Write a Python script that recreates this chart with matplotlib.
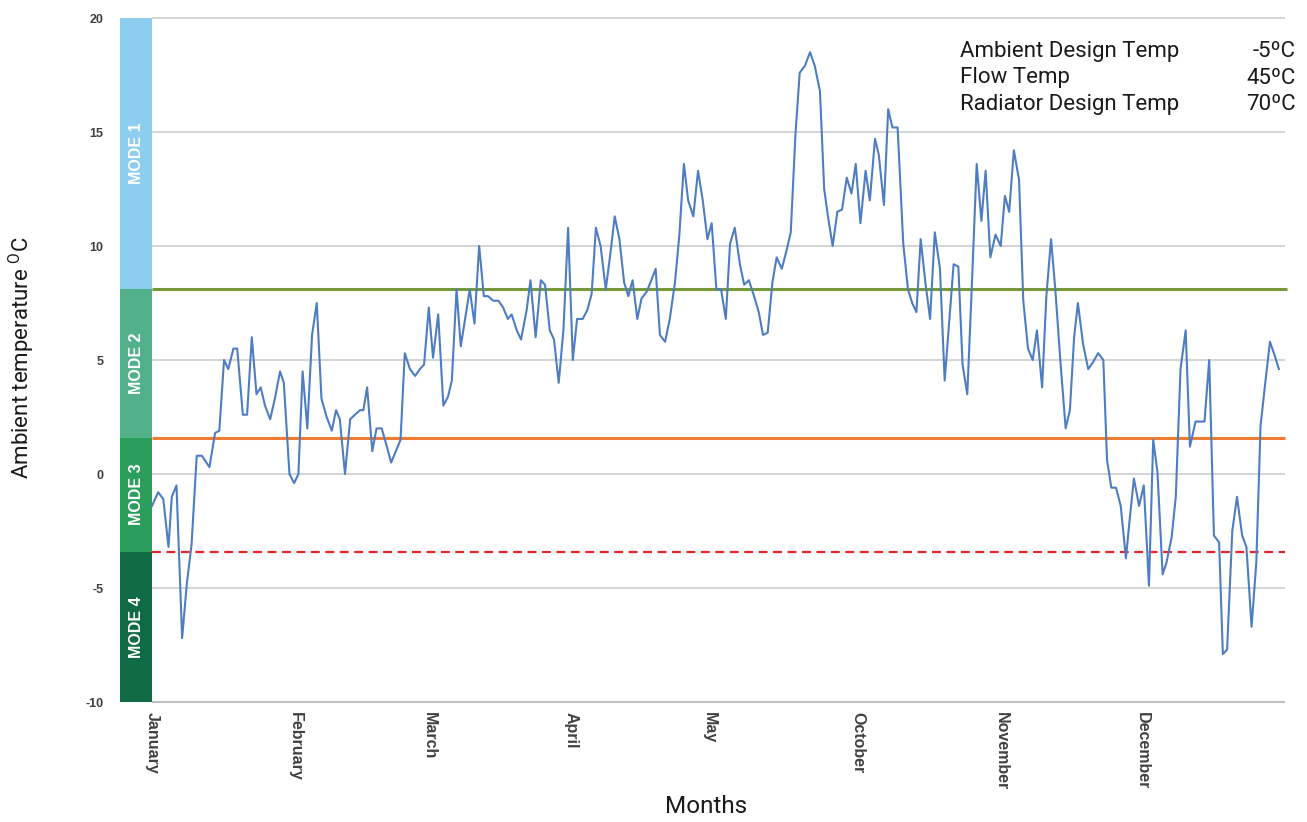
import matplotlib
matplotlib.use("Agg")
import matplotlib.pyplot as plt

plt.rcParams['font.family'] = ['Liberation Sans', 'DejaVu Sans']
plt.rcParams['mathtext.fontset'] = 'custom'
plt.rcParams['mathtext.rm'] = 'Roboto'
plt.rcParams['mathtext.it'] = 'Roboto'

# ---- data ----
days = [0, 1.3, 2.4, 3.5, 4.2, 5.2, 6.4, 7.4, 8.4, 9.5, 10.6, 12.2, 13.4, 14.3, 15.3, 16.2,
        17.3, 18.1, 19.3, 20.2, 21.2, 22.2, 23.1, 24.0, 25.1, 26.1, 27.2, 28.0, 29.2, 30.2,
        31.1, 32.0, 33.0, 34.0, 35.0, 36.0, 37.1, 38.2, 39.1, 39.9, 41.0, 42.1, 43.1, 44.2,
        44.9, 45.7, 46.8, 47.7, 48.8, 49.9, 50.8, 51.8, 52.8, 53.7, 54.8, 55.9, 56.9, 57.8,
        58.8, 59.7, 60.8, 61.9, 62.9, 63.7, 64.7, 65.6, 66.6, 67.5, 68.5, 69.5, 70.5, 71.4,
        72.5, 73.6, 74.6, 75.6, 76.4, 77.5, 78.4, 79.6, 80.4, 81.5, 82.6, 83.5, 84.5, 85.4,
        86.4, 87.4, 88.4, 89.4, 90.3, 91.5, 92.5, 93.4, 94.3, 95.3, 96.4, 97.4, 98.3, 99.3,
        100.3, 101.2, 102.1, 103.1, 104.0, 105.1, 105.9, 107.0, 107.9, 109.0, 110.0, 111.1,
        112.0, 113.0, 113.9, 115.0, 116.0, 117.0, 118.0, 118.9, 119.9, 120.9, 121.9, 122.8,
        123.8, 124.9, 125.8, 126.8, 127.9, 128.9, 129.8, 130.8, 131.8, 132.7, 133.8, 134.8,
        135.7, 136.7, 137.6, 138.7, 139.8, 140.8, 141.9, 142.8, 143.6, 144.6, 145.6, 146.6,
        147.6, 148.6, 149.5, 150.5, 151.6, 152.5, 153.6, 154.4, 155.5, 156.4, 157.3, 158.4,
        159.6, 160.6, 161.5, 162.4, 163.3, 164.3, 165.3, 166.3, 167.4, 168.4, 169.3, 170.3,
        171.3, 172.2, 173.2, 174.1, 175.2, 176.2, 177.1, 178.1, 179.2, 180.3, 181.2, 182.1,
        183.1, 184.2, 185.1, 186.1, 187.1, 188.0, 189.1, 190.0, 191.0, 191.9, 193.0, 194.1,
        195.0, 195.9, 196.7, 197.8, 198.9, 199.9, 201.0, 202.1, 202.9, 203.8, 204.8, 205.8,
        206.9, 207.7, 208.6, 209.7, 210.7, 211.8, 212.7, 213.6, 214.7, 215.5, 216.6, 217.5,
        218.5, 219.6, 220.5, 221.7, 222.7, 223.6, 224.6, 225.6, 226.7, 227.5, 228.4, 229.5,
        230.5, 231.6, 232.5, 233.6, 234.6, 235.5, 236.4, 237.5, 238.5, 239.4]
temps = [-1.4, -0.8, -1.1, -3.2, -1.0, -0.5, -7.2, -4.8, -3.1, 0.8, 0.8, 0.3, 1.8, 1.9, 5.0, 4.6,
         5.5, 5.5, 2.6, 2.6, 6.0, 3.5, 3.8, 3.0, 2.4, 3.3, 4.5, 4.0, 0.0, -0.4,
         0.0, 4.5, 2.0, 6.1, 7.5, 3.3, 2.5, 1.9, 2.8, 2.4, 0.0, 2.4, 2.6, 2.8,
         2.8, 3.8, 1.0, 2.0, 2.0, 1.2, 0.5, 1.0, 1.5, 5.3, 4.6, 4.3, 4.6, 4.8,
         7.3, 5.1, 7.0, 3.0, 3.4, 4.1, 8.1, 5.6, 6.9, 8.1, 6.6, 10.0, 7.8, 7.8,
         7.6, 7.6, 7.3, 6.8, 7.0, 6.3, 5.9, 7.2, 8.5, 6.0, 8.5, 8.3, 6.3, 5.9,
         4.0, 6.3, 10.8, 5.0, 6.8, 6.8, 7.2, 7.9, 10.8, 10.0, 8.1, 9.7, 11.3, 10.3,
         8.4, 7.8, 8.5, 6.8, 7.7, 8.0, 8.4, 9.0, 6.1, 5.8, 6.8, 8.4,
         10.4, 13.6, 12.0, 11.3, 13.3, 12.0, 10.3, 11.0, 8.1, 8.1, 6.8, 10.1,
         10.8, 9.2, 8.3, 8.5, 7.8, 7.1, 6.1, 6.2, 8.4, 9.5, 9.0, 9.8,
         10.6, 14.9, 17.6, 17.9, 18.5, 17.9, 16.8, 12.5, 11.3, 10.0, 11.5, 11.6,
         13.0, 12.3, 13.6, 11.0, 13.3, 12.0, 14.7, 14.0, 11.8, 16.0, 15.2, 15.2,
         10.1, 8.1, 7.5, 7.1, 10.3, 8.4, 6.8, 10.6, 9.0, 4.1, 6.5, 9.2,
         9.1, 4.8, 3.5, 7.9, 13.6, 11.1, 13.3, 9.5, 10.5, 10.0, 12.2, 11.5,
         14.2, 12.9, 7.6, 5.5, 5.0, 6.3, 3.8, 7.8, 10.3, 8.1, 4.9, 2.0,
         2.8, 6.0, 7.5, 5.7, 4.6, 4.9, 5.3, 5.0, 0.6, -0.6, -0.6, -1.4,
         -3.7, -2.0, -0.2, -1.4, -0.5, -4.9, 1.5, 0.1, -4.4, -3.9, -2.8, -1.0,
         4.6, 6.3, 1.2, 2.3, 2.3, 2.3, 5.0, -2.7, -3.0, -7.9, -7.7, -2.5,
         -1.0, -2.7, -3.2, -6.7, -3.9, 2.1, 3.8, 5.8, 5.2, 4.6]

month_labels = ["January", "February", "March", "April", "May", "October", "November", "December"]
month_pos = [0, 30.5, 59, 89, 118.5, 150, 180.5, 210.5]

y_ticks = [-10, -5, 0, 5, 10, 15, 20]

mode_names = ["MODE 1", "MODE 2", "MODE 3", "MODE 4"]
mode_top = [20, 8.1, 1.6, -3.4]
mode_bottom = [8.1, 1.6, -3.4, -10]
mode_colors = ["#8DCDF0", "#52B08A", "#2B9E5C", "#0E6B43"]

mode2_line = 8.1      # green
mode3_line = 1.6      # orange
design_line = -3.4    # red dashed

info_labels = ["Ambient Design Temp", "Flow Temp", "Radiator Design Temp"]
info_values = ["-5ºC", "45ºC", "70ºC"]

# ---- figure ----
W, H = 1307, 822
fig = plt.figure(figsize=(W / 100, H / 100), dpi=100)
ax = fig.add_axes([120 / W, 120 / H, 1165 / W, 684 / H])
xmin, xmax = -6.8, 240.7
ax.set_xlim(xmin, xmax)
ax.set_ylim(-10, 20)

for s in ax.spines.values():
    s.set_visible(False)

# gridlines
for yt in y_ticks:
    ax.hlines(yt, 0, xmax, color="#BDBDBD" if yt == -10 else "#D4D4D4",
              lw=1.4, zorder=1, clip_on=False)

# mode bands
for name, top, bot, col in zip(mode_names, mode_top, mode_bottom, mode_colors):
    ax.bar(xmin / 2, top - bot, width=-xmin, bottom=bot, color=col, zorder=2, linewidth=0)
    ax.text(xmin / 2, (top + bot) / 2, name, rotation=90, ha="center", va="center",
            color="white", fontsize=11.5, fontweight="bold", zorder=3)

# threshold lines
ax.hlines(mode2_line, 0, xmax + 0.4, color="#77993A", lw=2.2, zorder=3, clip_on=False)
ax.hlines(mode3_line, 0, xmax, color="#EE7D33", lw=2.2, zorder=3, clip_on=False)
ax.hlines(design_line, 0, xmax, color="#E3262B", lw=1.6, linestyles=(0, (4, 2.5)),
          zorder=3, clip_on=False)

# temperature line
ax.plot(days, temps, color="#4E7DC1", lw=1.5, zorder=4)

# ticks
ax.set_yticks(y_ticks)
ax.set_yticklabels([str(v) for v in y_ticks], fontsize=9, fontweight="bold", color="#404040")
ax.tick_params(axis="y", length=0, pad=12)
ax.set_xticks(month_pos)
ax.set_xticklabels(month_labels, rotation=270, fontsize=11.5, fontweight="bold",
                   color="#404040", ha="center", va="top")
ax.tick_params(axis="x", length=0, pad=7)

light = ['Roboto', 'Liberation Sans', 'DejaVu Sans']

# axis titles
fig.text(22 / W, 1 - 358 / H, "Ambient temperature $^{\\mathrm{O}}$C", rotation=90,
         ha="center", va="center", fontsize=16, color="#1A1A1A",
         family=light, fontweight="normal")
fig.text(706 / W, 1 - 806 / H, "Months", ha="center", va="center", fontsize=17.5,
         color="#1A1A1A", family=light, fontweight="normal")

# info box text
for i, (lab, val) in enumerate(zip(info_labels, info_values)):
    yb = 1 - (57 + i * 26.5) / H
    fig.text(960 / W, yb, lab, ha="left", va="baseline", fontsize=16, color="#1A1A1A",
             family=light, fontweight="normal")
    fig.text(1296 / W, yb, val, ha="right", va="baseline", fontsize=16, color="#1A1A1A",
             family=light, fontweight="normal")

fig.savefig("out.png", dpi=100, facecolor="white")
